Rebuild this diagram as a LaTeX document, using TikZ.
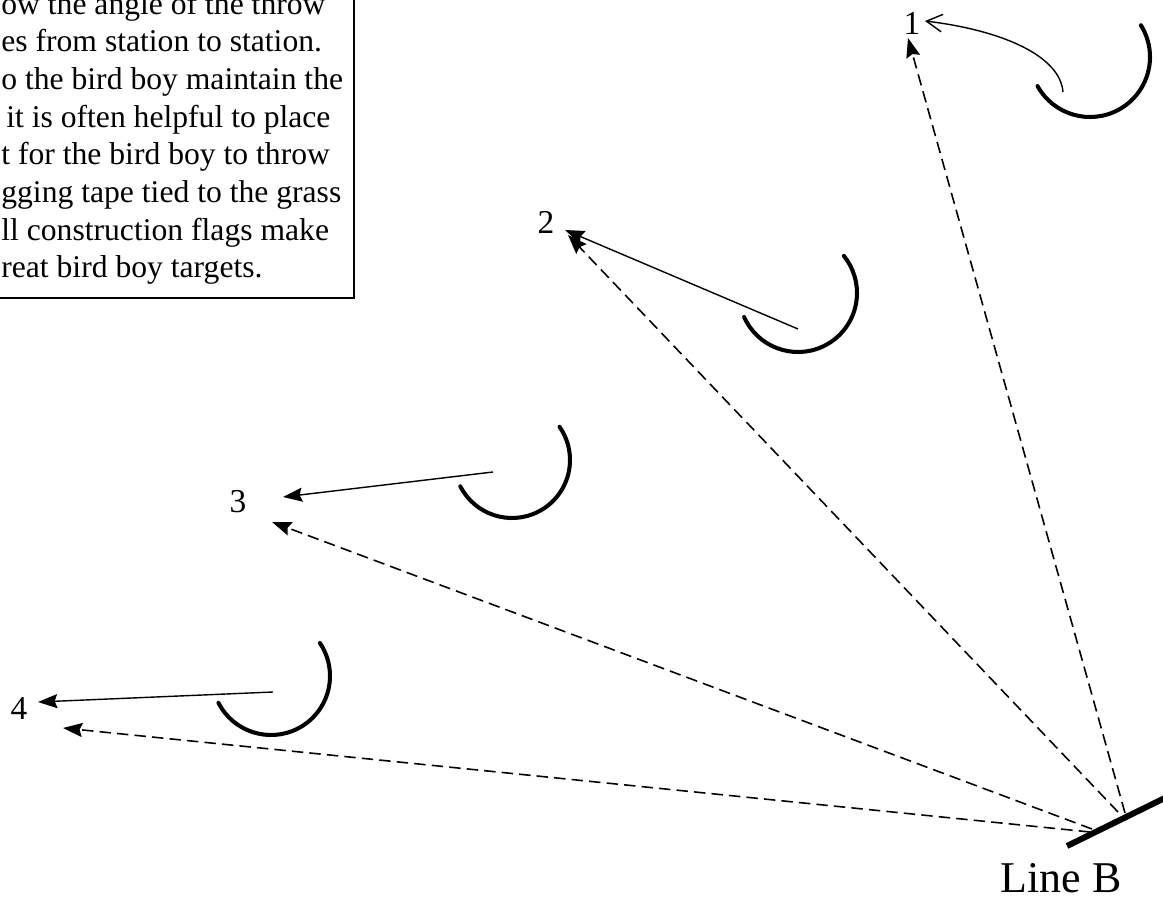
\documentclass[tikz,border=0pt]{standalone}
\usepackage{fontspec}
\setmainfont{Liberation Serif}
\usetikzlibrary{arrows.meta}
\tikzset{
	mitt/.style={line width=2.3pt, line cap=round},
	throw/.style={line width=0.8pt, -{Stealth[length=11pt, width=8pt, inset=1.5pt]}},
	aim/.style={line width=0.9pt, dash pattern=on 6.5pt off 3.5pt, -{Stealth[length=11pt, width=8pt, inset=1.5pt]}},
	station/.style={font=\fontsize{19}{22}\selectfont, inner sep=0pt}
}

\begin{document}
\begin{tikzpicture}[]
		\clip (0,0) rectangle (23.26,-17.96);

		% note
		\draw[line width=1.1pt] (-0.5,0.5) rectangle (7.08,-5.96);
		\node[anchor=base west, align=left, inner sep=0pt, font=\fontsize{18}{21.45}\selectfont] (note) at (0.02,-5.56) {ow the angle of the throw\\es from station to station.\\o the bird boy maintain the\\\hspace*{0.1cm}it is often helpful to place\\t for the bird boy to throw\\gging tape tied to the grass\\ll construction flags make\\reat bird boy targets.};

		% Line B
		\coordinate (lb1) at (21.34,-16.92);
		\coordinate (lb2) at (23.5,-15.86);
		\draw[line width=3.4pt] (lb1) -- (lb2);
		\node[font=\fontsize{25}{30}\selectfont, anchor=base, inner sep=0pt] (lineb) at (21.22,-17.84) {Line B};
		\coordinate (b1) at (22.5,-16.26);
		\coordinate (b2) at (22.36,-16.24);
		\coordinate (b3) at (21.84,-16.58);
		\coordinate (b4) at (21.8,-16.64);

		% station 1
		\node[station] (n1) at (18.24,-0.46) {1};
		\coordinate (m1) at (21.8,-1.14);
		\draw[mitt] ([shift={(209:1.2)}]m1) arc[start angle=209, end angle=392, radius=1.2];
		\coordinate (s1) at (21.26,-1.84);
		\coordinate (s1tip) at (18.5,-0.42);
		\draw[line width=0.8pt, -{Straight Barb[length=9pt, width=10pt]}] (s1) .. controls (21.2,-1.1) and (20.0,-0.6) .. (s1tip);
		\coordinate (d1tip) at (18.16,-0.76);
		\path[aim] (b1) edge (d1tip);

		% station 2
		\node[station] (n2) at (10.92,-4.44) {2};
		\coordinate (m2) at (15.96,-5.86);
		\draw[mitt] ([shift={(204:1.18)}]m2) arc[start angle=204, end angle=399, radius=1.18];
		\coordinate (s2) at (15.96,-6.58);
		\coordinate (s2tip) at (11.3,-4.6);
		\path[throw] (s2) edge (s2tip);
		\coordinate (d2tip) at (11.36,-4.7);
		\path[aim] (b2) edge (d2tip);

		% station 3
		\node[station] (n3) at (4.76,-10.04) {3};
		\coordinate (m3) at (10.24,-9.2);
		\draw[mitt] ([shift={(207:1.16)}]m3) arc[start angle=207, end angle=395, radius=1.16];
		\coordinate (s3) at (9.86,-9.44);
		\coordinate (s3tip) at (5.66,-9.94);
		\path[throw] (s3) edge (s3tip);
		\coordinate (d3tip) at (5.44,-10.44);
		\path[aim] (b3) edge (d3tip);

		% station 4
		\node[station] (n4) at (0.38,-14.18) {4};
		\coordinate (m4) at (5.42,-13.52);
		\draw[mitt] ([shift={(207:1.18)}]m4) arc[start angle=207, end angle=394, radius=1.18];
		\coordinate (s4) at (5.46,-13.84);
		\coordinate (s4tip) at (0.76,-14.04);
		\path[throw] (s4) edge (s4tip);
		\coordinate (d4tip) at (1.26,-14.56);
		\path[aim] (b4) edge (d4tip);
	\end{tikzpicture}
\end{document}
